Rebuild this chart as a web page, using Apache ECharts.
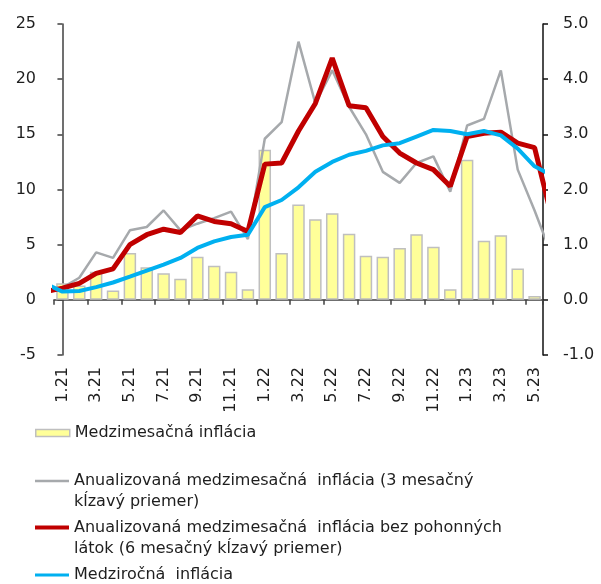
<!DOCTYPE html>
<html>
<head>
<meta charset="utf-8">
<script src="https://cdn.jsdelivr.net/npm/echarts@6/dist/echarts.min.js"></script>
<style>
html, body { margin: 0; padding: 0; background: #fff; }
#chart { width: 601px; height: 584px; }
</style>
</head>
<body>
<div id="chart"></div>
<script>
// months shown on the axis (1.21 .. 5.23)
const months = ['1.21', '2.21', '3.21', '4.21', '5.21', '6.21', '7.21', '8.21', '9.21', '10.21', '11.21', '12.21',
    '1.22', '2.22', '3.22', '4.22', '5.22', '6.22', '7.22', '8.22', '9.22', '10.22', '11.22', '12.22',
    '1.23', '2.23', '3.23', '4.23', '5.23'];

// month-on-month inflation (right axis)
const momValues = [0.30, 0.26, 0.51, 0.17, 0.85, 0.59, 0.48, 0.38, 0.78, 0.62, 0.51, 0.19,
    2.72, 0.85, 1.73, 1.46, 1.57, 1.20, 0.80, 0.78, 0.94, 1.19, 0.96, 0.19,
    2.54, 1.07, 1.17, 0.57, 0.07];

// line series run from 12.20 to 6.23, the ends get cut at the plot edge
const lineStart = -1;
const grayValues = [0.8, 1.1, 2.0, 4.3, 3.8, 6.3, 6.6, 8.1, 6.3, 6.9, 7.4, 8.0, 5.5,
    14.6, 16.1, 23.4, 17.8, 20.8, 17.5, 15.0, 11.6, 10.6, 12.4, 13.0, 9.8,
    15.8, 16.4, 20.8, 11.8, 8.1, 4.1];
const redValues = [0.74, 1.06, 1.5, 2.4, 2.8, 5.0, 5.9, 6.4, 6.1, 7.6, 7.1, 6.9, 6.2,
    12.3, 12.4, 15.3, 17.8, 21.9, 17.6, 17.4, 14.8, 13.3, 12.4, 11.8, 10.3,
    14.8, 15.1, 15.2, 14.2, 13.8, 7.6];
const blueValues = [1.45, 0.75, 0.8, 1.15, 1.57, 2.1, 2.65, 3.2, 3.8, 4.7, 5.3, 5.7, 5.9,
    8.4, 9.05, 10.2, 11.6, 12.5, 13.15, 13.5, 14.0, 14.2, 14.8, 15.4, 15.3,
    15.0, 15.3, 14.9, 13.7, 12.1, 11.3];

const names = {
    bar: 'Medzimesačná inflácia',
    gray: 'Anualizovaná medzimesačná  inflácia (3 mesačný\nkĺzavý priemer)',
    red: 'Anualizovaná medzimesačná  inflácia bez pohonných\nlátok (6 mesačný kĺzavý priemer)',
    blue: 'Medziročná  inflácia'
};

const toPoints = vals => vals.map((v, i) => [i + lineStart, v]);

const font = 'DejaVu Sans';
const textColor = '#1e1e1e';

// icon: a bar at the top plus an invisible dot lower down, so the icon lines up with the first text row
function topLineIcon(thick) {
    const h = 21 + thick;
    return 'path://M0,0H34V' + thick + 'H0Z M0,' + (h - 0.01) + 'H0.01V' + h + 'H0Z';
}

function legendBox(name, top, icon, itemHeight, itemStyle) {
    return {
        data: [{name: name, icon: icon, itemStyle: itemStyle}],
        left: 35,
        top: top,
        orient: 'vertical',
        padding: 0,
        itemWidth: 34,
        itemHeight: itemHeight,
        symbolKeepAspect: false,
        selectedMode: false,
        textStyle: {fontFamily: font, fontSize: 16, lineHeight: 21, color: textColor}
    };
}

const chart = echarts.init(document.getElementById('chart'), null, {renderer: 'canvas'});

const option = {
    animation: false,
    textStyle: {fontFamily: font},
    grid: {left: 54, right: 58, top: 24, bottom: 229, containLabel: false},
    legend: [
        legendBox(names.bar, 422.5, 'rect', 7, {color: '#FFFF99', borderColor: '#BFBFBF', borderWidth: 1.5}),
        legendBox(names.gray, 470.5, topLineIcon(2.5), 23.5, {color: '#A6A9AC'}),
        legendBox(names.red, 517, topLineIcon(4), 25, {color: '#C00000'}),
        legendBox(names.blue, 564.5, 'rect', 3, {color: '#00B0F0'})
    ],
    xAxis: [
        {
            type: 'category',
            data: months,
            position: 'bottom',
            axisLine: {show: false, onZero: false},
            axisTick: {show: false},
            axisLabel: {
                interval: 1,
                rotate: 90,
                margin: 12,
                fontSize: 16,
                fontFamily: font,
                color: textColor
            },
            splitLine: {show: false}
        },
        {
            type: 'value',
            min: -0.5,
            max: 28.5,
            interval: 2,
            position: 'bottom',
            axisLine: {show: true, onZero: true, onZeroAxisIndex: 0, lineStyle: {color: '#404040', width: 1.5}},
            axisTick: {show: true, inside: false, length: 5, lineStyle: {color: '#404040', width: 1.5}},
            axisLabel: {show: false},
            splitLine: {show: false}
        }
    ],
    yAxis: [
        {
            type: 'value',
            min: -5,
            max: 25,
            interval: 5,
            position: 'left',
            axisLine: {show: true, lineStyle: {color: '#404040', width: 1.5}},
            axisTick: {show: true, inside: false, length: 5, lineStyle: {color: '#404040', width: 1.5}},
            axisLabel: {fontSize: 16, fontFamily: font, color: textColor, margin: 18},
            splitLine: {show: false}
        },
        {
            type: 'value',
            min: -1,
            max: 5,
            interval: 1,
            position: 'right',
            axisLine: {show: true, lineStyle: {color: '#111', width: 1.5}},
            axisTick: {show: true, inside: false, length: 5, lineStyle: {color: '#111', width: 1.5}},
            axisLabel: {
                fontSize: 16, fontFamily: font, color: textColor, margin: 20,
                formatter: v => v.toFixed(1)
            },
            splitLine: {show: false}
        }
    ],
    series: [
        {
            name: names.bar,
            type: 'bar',
            xAxisIndex: 0,
            yAxisIndex: 1,
            data: momValues,
            barWidth: '74%',
            itemStyle: {color: '#FFFF99', borderColor: '#BFBFBF', borderWidth: 1.5}
        },
        {
            name: names.gray,
            type: 'line',
            xAxisIndex: 1,
            yAxisIndex: 0,
            data: toPoints(grayValues),
            showSymbol: false,
            clip: true,
            color: '#A6A9AC',
            lineStyle: {color: '#A6A9AC', width: 2.5}
        },
        {
            name: names.red,
            type: 'line',
            xAxisIndex: 1,
            yAxisIndex: 0,
            data: toPoints(redValues),
            showSymbol: false,
            clip: true,
            color: '#C00000',
            lineStyle: {color: '#C00000', width: 5}
        },
        {
            name: names.blue,
            type: 'line',
            xAxisIndex: 1,
            yAxisIndex: 0,
            data: toPoints(blueValues),
            showSymbol: false,
            clip: true,
            color: '#00B0F0',
            lineStyle: {color: '#00B0F0', width: 4}
        }
    ]
};

chart.setOption(option);
</script>
</body>
</html>
